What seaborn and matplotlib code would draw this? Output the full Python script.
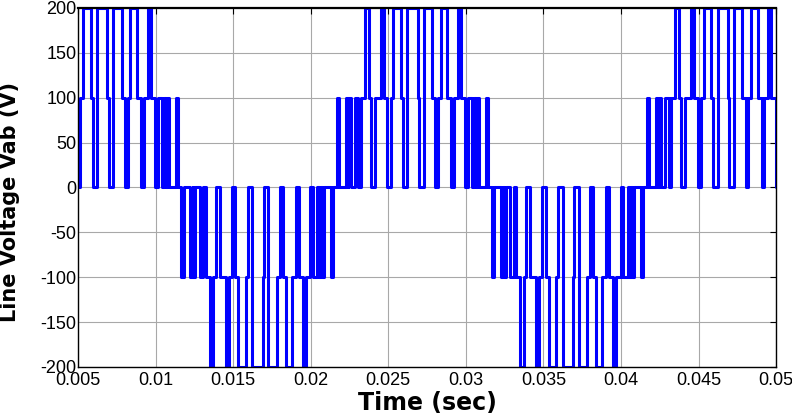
import matplotlib
matplotlib.use("Agg")
import matplotlib.pyplot as plt
import seaborn as sns
import pandas as pd

# Switching instants (ms) and the line-voltage level (V) taken after each switch
half_1_ms = [5.15, 5.33, 5.83, 5.96, 6.23, 6.90, 6.99, 7.27, 7.83, 8.03, 8.21, 8.38,
             8.80, 9.06, 9.24, 9.50, 9.69, 9.97, 10.16, 10.42, 10.52, 10.64, 10.71,
             10.84, 11.29, 11.42]
half_1_v = [100, 200, 100, 0, 200, 100, 0, 200, 100, 0, 100, 200,
            100, 0, 100, 200, 100, 0, 100, 0, 100, 0, 100,
            0, 100, 0]

half_2_ms = [11.67, 11.81, 12.25, 12.40, 12.43, 12.57, 12.85, 13.07, 13.25, 13.51,
             13.73, 13.89, 14.15, 14.54, 14.73, 14.93, 15.15, 15.33, 15.83, 15.96,
             16.23, 16.90, 16.99, 17.27, 17.83, 18.03, 18.21, 18.38, 18.80, 19.06,
             19.24, 19.50, 19.69, 19.97, 20.16, 20.42, 20.52, 20.64, 20.71, 20.84,
             21.29, 21.42]
half_2_v = [-100, 0, -100, 0, -100, 0, -100, 0, -100, -200,
            -100, 0, -100, -200, -100, 0, -100, -200, -100, 0,
            -200, -100, 0, -200, -100, 0, -100, -200, -100, 0,
            -100, -200, -100, 0, -100, 0, -100, 0, -100, 0,
            -100, 0]

half_3_ms = [21.67, 21.81, 22.25, 22.40, 22.43, 22.57, 22.85, 23.07, 23.25, 23.51,
             23.73, 23.89, 24.15, 24.54, 24.73, 24.93, 25.15, 25.33, 25.83, 25.96,
             26.23, 26.90, 26.99, 27.27, 27.83, 28.03, 28.21, 28.38, 28.80, 29.06,
             29.24, 29.50, 29.69, 29.97, 30.16, 30.42, 30.52, 30.64, 30.71, 30.84,
             31.29, 31.42]
half_3_v = [100, 0, 100, 0, 100, 0, 100, 0, 100, 200,
            100, 0, 100, 200, 100, 0, 100, 200, 100, 0,
            200, 100, 0, 200, 100, 0, 100, 200, 100, 0,
            100, 200, 100, 0, 100, 0, 100, 0, 100, 0,
            100, 0]

half_4_ms = [31.67, 31.81, 32.25, 32.40, 32.43, 32.57, 32.85, 33.07, 33.25, 33.51,
             33.73, 33.89, 34.15, 34.54, 34.73, 34.93, 35.15, 35.33, 35.83, 35.96,
             36.23, 36.90, 36.99, 37.27, 37.83, 38.03, 38.21, 38.38, 38.80, 39.06,
             39.24, 39.50, 39.69, 39.97, 40.16, 40.42, 40.52, 40.64, 40.71, 40.84,
             41.29, 41.42]
half_4_v = [-100, 0, -100, 0, -100, 0, -100, 0, -100, -200,
            -100, 0, -100, -200, -100, 0, -100, -200, -100, 0,
            -200, -100, 0, -200, -100, 0, -100, -200, -100, 0,
            -100, -200, -100, 0, -100, 0, -100, 0, -100, 0,
            -100, 0]

half_5_ms = [41.67, 41.81, 42.25, 42.40, 42.43, 42.57, 42.85, 43.07, 43.25, 43.51,
             43.73, 43.89, 44.15, 44.54, 44.73, 44.93, 45.15, 45.33, 45.83, 45.96,
             46.23, 46.90, 46.99, 47.27, 47.83, 48.03, 48.21, 48.38, 48.80, 49.06,
             49.24, 49.50, 49.69, 49.97, 50.00]
half_5_v = [100, 0, 100, 0, 100, 0, 100, 0, 100, 200,
            100, 0, 100, 200, 100, 0, 100, 200, 100, 0,
            200, 100, 0, 200, 100, 0, 100, 200, 100, 0,
            100, 200, 100, 0, 0]

start_ms = [5.00]
start_v = [0]

x_ticks = [0.005, 0.01, 0.015, 0.02, 0.025, 0.03, 0.035, 0.04, 0.045, 0.05]
x_tick_labels = ["0.005", "0.01", "0.015", "0.02", "0.025", "0.03", "0.035",
                 "0.04", "0.045", "0.05"]
y_ticks = [-200, -150, -100, -50, 0, 50, 100, 150, 200]

times_ms = start_ms + half_1_ms + half_2_ms + half_3_ms + half_4_ms + half_5_ms
volts = start_v + half_1_v + half_2_v + half_3_v + half_4_v + half_5_v
df = pd.DataFrame({"t": [t / 1000.0 for t in times_ms], "v": volts})

sns.set_style("white")
plt.rcParams["font.family"] = ["Liberation Sans Narrow", "Liberation Sans", "DejaVu Sans"]
plt.rcParams["axes.unicode_minus"] = False
plt.rcParams["text.color"] = "black"
plt.rcParams["axes.labelcolor"] = "black"

fig = plt.figure(figsize=(7.92, 4.16), dpi=100)
ax = fig.add_axes([0.0985, 0.118, 0.8815, 0.863])

sns.lineplot(data=df, x="t", y="v", ax=ax, color="#0000ff", linewidth=2.2,
             drawstyle="steps-post", estimator=None, sort=False)

ax.set_xlim(0.005, 0.05)
ax.set_ylim(-200, 200)
ax.set_xticks(x_ticks)
ax.set_xticklabels(x_tick_labels)
ax.set_yticks(y_ticks)
ax.grid(True, color="#a8a8a8", linewidth=0.8)
ax.set_axisbelow(True)

ax.tick_params(axis="both", direction="in", length=4, width=0.8, labelsize=13,
               top=True, right=True, colors="black", labelcolor="black")
ax.tick_params(axis="x", pad=4)
ax.tick_params(axis="y", pad=1)
for s in ax.spines.values():
    s.set_visible(True)
    s.set_color("black")
    s.set_linewidth(1.0)
ax.spines["top"].set_linewidth(1.6)

ax.set_xlabel("Time (sec)", fontsize=17, fontweight="bold", family=["DejaVu Sans"],
              color="black")
ax.xaxis.set_label_coords(0.5, -0.068)
ax.set_ylabel("Line Voltage Vab (V)", fontsize=15, fontweight="bold",
              family=["DejaVu Sans"], color="black")
ax.yaxis.set_label_coords(-0.083, 0.46)

fig.savefig("out.png", dpi=100)
